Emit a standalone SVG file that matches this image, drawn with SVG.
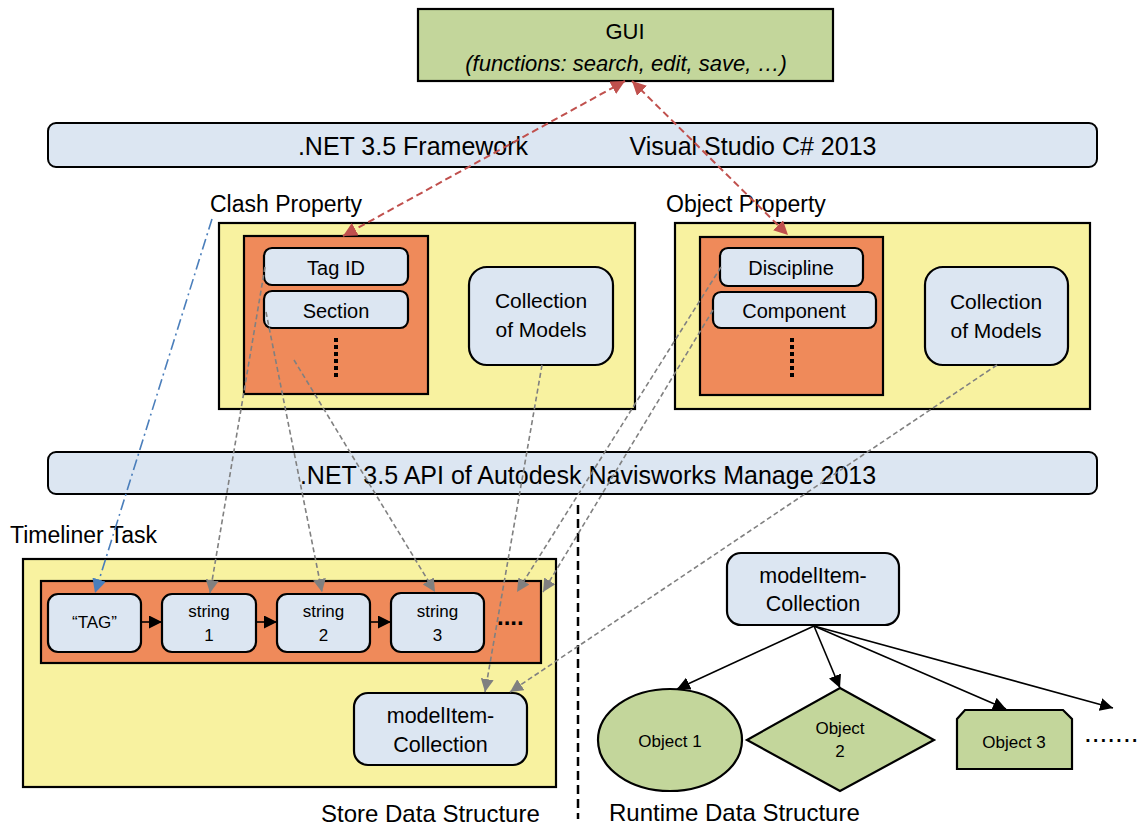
<svg xmlns="http://www.w3.org/2000/svg" width="1145" height="829" viewBox="0 0 1145 829">
  <style>
    text { font-family: "Liberation Sans", Arial, sans-serif; fill: #000; }
    .mid { text-anchor: middle; }
    .bar { fill: #DCE6F2; stroke: #000; stroke-width: 2; }
    .blue { fill: #DCE6F2; stroke: #000; stroke-width: 2.2; }
    .yellow { fill: #F8F2A0; stroke: #000; stroke-width: 2.2; }
    .orange { fill: #EF8A5A; stroke: #000; stroke-width: 2.2; }
    .green { fill: #C3D69B; stroke: #000; stroke-width: 2.2; }
    .vdots { stroke: #000; stroke-width: 4; stroke-dasharray: 4 3; }
    .gray { fill: none; stroke: #808080; stroke-width: 1.6; stroke-dasharray: 5 3; marker-end: url(#ah-gray); }
    .red { fill: none; stroke: #C0504D; stroke-width: 2; stroke-dasharray: 7 4; marker-start: url(#ah-red); marker-end: url(#ah-red); }
    .dashdot { fill: none; stroke: #4A7EBB; stroke-width: 1.6; stroke-dasharray: 11 4 2 4; marker-end: url(#ah-blue); }
    .solid { fill: none; stroke: #000; stroke-width: 1.6; marker-end: url(#ah-black); }
  </style>
  <defs>
    <marker id="ah-gray" viewBox="0 0 12 12" refX="12" refY="6" markerWidth="13" markerHeight="13" orient="auto" markerUnits="userSpaceOnUse">
      <path d="M0,0 L12,6 L0,12 z" fill="#808080"/>
    </marker>
    <marker id="ah-red" viewBox="0 0 12 12" refX="12" refY="6" markerWidth="14" markerHeight="14" orient="auto-start-reverse" markerUnits="userSpaceOnUse">
      <path d="M0,0 L12,6 L0,12 z" fill="#C0504D"/>
    </marker>
    <marker id="ah-blue" viewBox="0 0 12 12" refX="12" refY="6" markerWidth="14" markerHeight="14" orient="auto" markerUnits="userSpaceOnUse">
      <path d="M0,0 L12,6 L0,12 z" fill="#4A7EBB"/>
    </marker>
    <marker id="ah-black" viewBox="0 0 12 12" refX="12" refY="6" markerWidth="13" markerHeight="13" orient="auto" markerUnits="userSpaceOnUse">
      <path d="M0,0 L12,6 L0,12 z" fill="#000"/>
    </marker>
  </defs>

  <!-- GUI -->
  <g id="gui">
    <rect x="418" y="9" width="415" height="72" class="green"/>
    <text x="625" y="39" class="mid" font-size="22">GUI</text>
    <text x="626" y="71" class="mid" font-size="22" font-style="italic">(functions: search, edit, save, …)</text>
  </g>

  <!-- framework bar -->
  <g id="framework">
    <rect x="48" y="123" width="1049" height="44" rx="8" class="bar"/>
    <text x="413" y="155" class="mid" font-size="25">.NET 3.5 Framework</text>
    <text x="753" y="155" class="mid" font-size="25">Visual Studio C# 2013</text>
  </g>

  <!-- clash property -->
  <g id="clash-property">
    <text x="210" y="212" font-size="23">Clash Property</text>
    <rect x="219" y="223" width="416" height="186" class="yellow"/>
    <rect x="244" y="236" width="184" height="158" class="orange"/>
    <rect x="264" y="248" width="144" height="37" rx="8" class="blue"/>
    <text x="336" y="275" class="mid" font-size="20">Tag ID</text>
    <rect x="264" y="291" width="144" height="37" rx="8" class="blue"/>
    <text x="336" y="318" class="mid" font-size="20">Section</text>
    <line x1="336" y1="338" x2="336" y2="379" class="vdots"/>
    <rect x="469" y="267" width="144" height="98" rx="18" class="blue"/>
    <text x="541" y="308" class="mid" font-size="21">Collection</text>
    <text x="541" y="337" class="mid" font-size="21">of Models</text>
  </g>

  <!-- object property -->
  <g id="object-property">
    <text x="666" y="212" font-size="23">Object Property</text>
    <rect x="675" y="223" width="415" height="186" class="yellow"/>
    <rect x="700" y="237" width="183" height="158" class="orange"/>
    <rect x="720" y="248" width="143" height="38" rx="8" class="blue"/>
    <text x="791" y="275" class="mid" font-size="20">Discipline</text>
    <rect x="713" y="292" width="163" height="36" rx="8" class="blue"/>
    <text x="794" y="318" class="mid" font-size="20">Component</text>
    <line x1="792" y1="338" x2="792" y2="379" class="vdots"/>
    <rect x="925" y="267" width="143" height="98" rx="18" class="blue"/>
    <text x="996" y="309" class="mid" font-size="21">Collection</text>
    <text x="996" y="338" class="mid" font-size="21">of Models</text>
  </g>

  <!-- API bar -->
  <g id="api">
    <rect x="48" y="452" width="1049" height="42" rx="8" class="bar"/>
    <text x="588" y="484" class="mid" font-size="25">.NET 3.5 API of Autodesk Navisworks Manage 2013</text>
  </g>

  <!-- timeliner task (store data structure) -->
  <g id="timeliner-task">
    <text x="10" y="543" font-size="23">Timeliner Task</text>
    <rect x="23" y="559" width="533" height="228" class="yellow"/>
    <rect x="41" y="581" width="500" height="82" class="orange"/>
    <rect x="48" y="594" width="93" height="58" rx="10" class="blue"/>
    <text x="94.5" y="628" class="mid" font-size="17">“TAG”</text>
    <rect x="162" y="594" width="94" height="58" rx="10" class="blue"/>
    <text x="209" y="617" class="mid" font-size="17">string</text>
    <text x="209" y="641" class="mid" font-size="17">1</text>
    <rect x="277" y="594" width="93" height="58" rx="10" class="blue"/>
    <text x="323.5" y="617" class="mid" font-size="17">string</text>
    <text x="323.5" y="641" class="mid" font-size="17">2</text>
    <rect x="391" y="593" width="93" height="59" rx="10" class="blue"/>
    <text x="437.5" y="617" class="mid" font-size="17">string</text>
    <text x="437.5" y="641" class="mid" font-size="17">3</text>
    <text x="497" y="625" font-size="24" font-weight="bold">....</text>
  </g>

  <g id="store-collection">
    <rect x="354" y="693" width="173" height="72" rx="14" class="blue"/>
    <text x="440.5" y="723" class="mid" font-size="21.5">modelItem-</text>
    <text x="440.5" y="752" class="mid" font-size="21.5">Collection</text>
  </g>

  <!-- runtime data structure -->
  <g id="runtime-collection">
    <rect x="727" y="553" width="172" height="72" rx="14" class="blue"/>
    <text x="813" y="583" class="mid" font-size="21.5">modelItem-</text>
    <text x="813" y="611" class="mid" font-size="21.5">Collection</text>
  </g>
  <g id="object-1">
    <ellipse cx="670" cy="740" rx="72" ry="51" class="green"/>
    <text x="670" y="747" class="mid" font-size="17">Object 1</text>
  </g>
  <g id="object-2">
    <polygon points="747,740 840,688 934,740 840,791" class="green"/>
    <text x="840" y="734" class="mid" font-size="17">Object</text>
    <text x="840" y="757" class="mid" font-size="17">2</text>
  </g>
  <g id="object-3">
    <polygon points="965,710 1063,710 1072,719 1072,769 957,769 957,719" class="green"/>
    <text x="1014" y="748" class="mid" font-size="17">Object 3</text>
  </g>
  <g id="more-objects">
    <text x="1084" y="742" font-size="28">.......</text>
  </g>

  <!-- section labels and divider -->
  <g id="divider">
    <line x1="578" y1="505" x2="578" y2="819" stroke="#000" stroke-width="2.5" stroke-dasharray="9 5"/>
    <text x="321" y="822" font-size="24">Store Data Structure</text>
    <text x="609" y="821" font-size="24">Runtime Data Structure</text>
  </g>

  <!-- connectors -->
  <g id="connectors">
    <!-- GUI to property panels -->
    <line x1="625" y1="81" x2="343" y2="236" class="red"/>
    <line x1="632" y1="81" x2="788" y2="235" class="red"/>
    <!-- clash property label to TAG -->
    <line x1="212" y1="219" x2="95" y2="593" class="dashdot"/>
    <!-- clash fields to strings -->
    <line x1="265" y1="267" x2="210" y2="593" class="gray"/>
    <line x1="266" y1="312" x2="322" y2="592" class="gray"/>
    <line x1="294" y1="360" x2="435" y2="592" class="gray"/>
    <line x1="542" y1="365" x2="485" y2="692" class="gray"/>
    <!-- object fields to the rest of the chain -->
    <line x1="721" y1="267" x2="517" y2="592" class="gray"/>
    <line x1="713" y1="310" x2="543" y2="592" class="gray"/>
    <line x1="997" y1="365" x2="510" y2="692" class="gray"/>
    <!-- chain of strings -->
    <line x1="141" y1="622" x2="162" y2="622" class="solid"/>
    <line x1="256" y1="622" x2="277" y2="622" class="solid"/>
    <line x1="370" y1="622" x2="391" y2="622" class="solid"/>
    <!-- runtime collection to objects -->
    <line x1="814" y1="626" x2="677" y2="689" class="solid"/>
    <line x1="814" y1="626" x2="840" y2="688" class="solid"/>
    <line x1="814" y1="626" x2="1006" y2="709" class="solid"/>
    <line x1="814" y1="626" x2="1113" y2="708" class="solid"/>
  </g>
</svg>
